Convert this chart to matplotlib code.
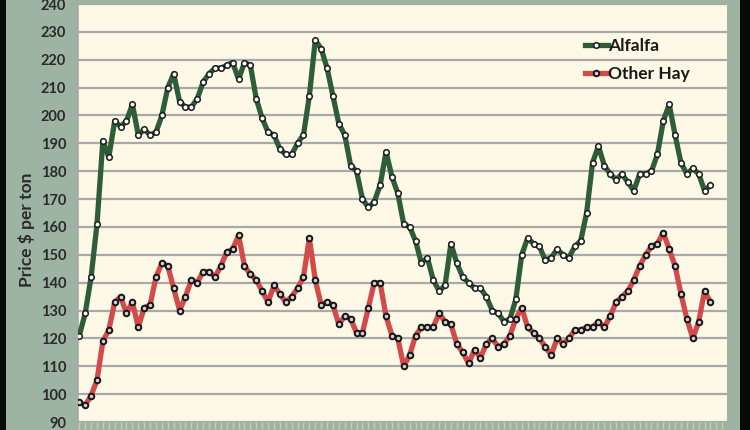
import matplotlib
matplotlib.use("Agg")
import matplotlib.pyplot as plt
import matplotlib.patches as patches
import numpy as np

# monthly prices, $ per ton
alfalfa = [
    121, 129, 142, 161, 191, 185, 198, 196, 198, 204,
    193, 195, 193, 194, 200, 210, 215, 205, 203, 203,
    206, 212, 215, 217, 217, 218, 219, 213, 219, 218,
    206, 199, 194, 193, 188, 186, 186, 190, 193, 207,
    227, 224, 217, 207, 197, 193, 182, 180, 170, 167,
    169, 175, 187, 178, 172, 161, 160, 155, 147, 149,
    141, 137, 139, 154, 147, 142, 140, 138, 138, 135,
    130, 129, 126, 127, 134, 150, 156, 154, 153, 148,
    149, 152, 150, 149, 153, 155, 165, 183, 189, 182,
    179, 177, 179, 176, 173, 179, 179, 180, 186, 198,
    204, 193, 183, 179, 181, 179, 173, 175,
]
other_hay = [
    97, 96, 99.5, 105, 119, 123, 133, 135, 129, 133,
    124, 131, 132, 142, 147, 146, 138, 130, 135, 141,
    140, 144, 144, 142, 146, 151, 152, 157, 146, 143,
    141, 137, 133, 139, 136, 133, 135, 138, 142, 156,
    141, 132, 133, 132, 125, 128, 127, 122, 122, 131,
    140, 140, 128, 121, 120, 110, 114, 121, 124, 124,
    124, 129, 126, 125, 118, 115, 111, 116, 113, 118,
    120, 117, 118, 121, 127, 131, 124, 122, 120, 117,
    114, 120, 118, 120, 123, 123, 124, 124, 126, 124,
    128, 133, 135, 137, 141, 146, 150, 153, 154, 158,
    152, 146, 136, 127, 120, 126, 137, 133,
]
y_ticks = list(range(90, 250, 10))
series_names = ["Alfalfa", "Other Hay"]

FRAME = "#9db4a3"
PLOT_BG = "#fdf9e6"
GREEN = "#2f5d3a"
RED = "#d24a4a"
GRID = "#a9a9a9"
TEXT = "#2a2a2a"

plt.rcParams["font.family"] = ["Lato", "DejaVu Sans"]

fig = plt.figure(figsize=(7.5, 4.3), dpi=100, facecolor=FRAME)

# dark edges of the scanned frame
fig.patches.append(patches.Rectangle((0, 0), 6 / 750, 1, transform=fig.transFigure,
                                     facecolor="#0a0a0a", edgecolor="none", zorder=0))
fig.patches.append(patches.Rectangle((740 / 750, 0), 10 / 750, 1, transform=fig.transFigure,
                                     facecolor="#0a0a0a", edgecolor="none", zorder=0))

ax = fig.add_axes([78 / 750, 8 / 430, 649 / 750, 418 / 430])
ax.set_facecolor(PLOT_BG)

x = np.arange(len(alfalfa))

ax.plot(x, alfalfa, color=GREEN, linewidth=3.8, marker="o", markersize=4,
        markerfacecolor="white", markeredgecolor="#1a1a1a", markeredgewidth=1.1,
        label=series_names[0], zorder=4, solid_joinstyle="round")
ax.plot(x, other_hay, color=RED, linewidth=3.8, marker="o", markersize=4,
        markerfacecolor="#cfcfcf", markeredgecolor="#151515", markeredgewidth=1.4,
        label=series_names[1], zorder=3, solid_joinstyle="round")

ax.set_ylim(90, 240)
ax.set_xlim(-0.22, 109.8)
ax.set_yticks(y_ticks)
ax.set_yticklabels([str(t) for t in y_ticks], fontsize=10.5, fontweight="bold", color=TEXT)
ax.set_xticks(np.arange(0, 110))
ax.set_xticklabels([])

ax.yaxis.grid(True, color=GRID, linewidth=1.6, zorder=1)
ax.set_axisbelow(True)
ax.tick_params(axis="y", length=7, width=1.6, color=GRID, pad=1.5)
ax.tick_params(axis="x", length=5, width=1, color="#c9cdb8", direction="out")

for side in ["top", "right", "bottom"]:
    ax.spines[side].set_visible(False)
ax.spines["left"].set_color(GRID)
ax.spines["left"].set_linewidth(1.2)

ax.set_ylabel("Price $ per ton", fontsize=12.5, fontweight="bold", color=TEXT)
ax.yaxis.set_label_coords(-0.066, 0.46)

leg = ax.legend(loc="upper left", bbox_to_anchor=(0.768, 0.94), frameon=False,
                prop={"weight": "bold", "size": 12.5}, handlelength=1.3,
                handletextpad=0.0, labelspacing=0.72, borderpad=0)
for t in leg.get_texts():
    t.set_color("#1a1a1a")

fig.savefig("out.png", dpi=100, facecolor=FRAME)
